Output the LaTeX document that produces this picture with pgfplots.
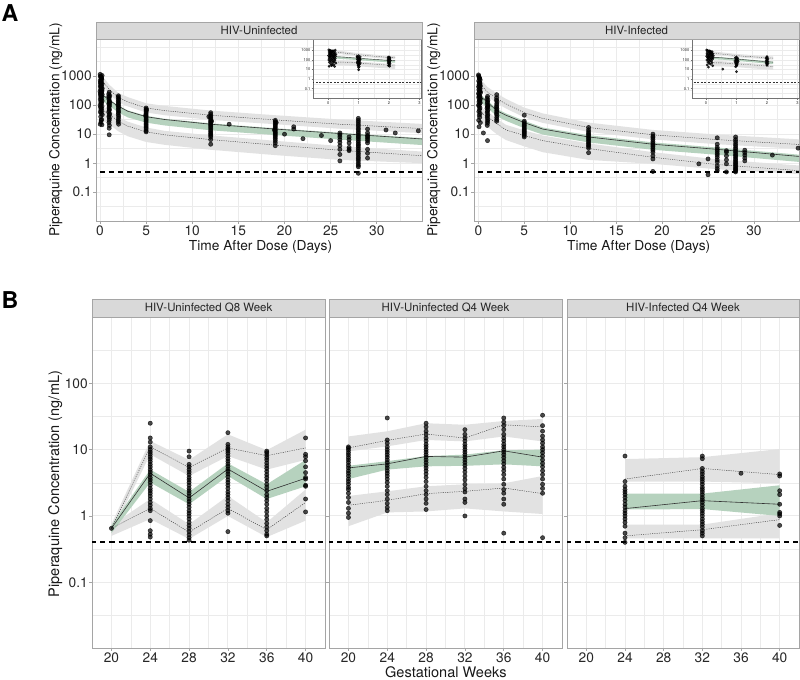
\documentclass[border=0pt]{standalone}
\usepackage{fontspec}
\setmainfont{TeX Gyre Heros}
\usepackage{pgfplots}
\pgfplotsset{compat=1.18}
\usepackage{pgfplotstable}
\definecolor{bandgreen}{RGB}{182,210,190}
\definecolor{bandgray}{RGB}{226,226,226}
\definecolor{gridc}{RGB}{235,235,235}
\definecolor{framec}{RGB}{165,165,165}
\definecolor{stripc}{RGB}{217,217,217}

% ---------------- model lines (median, 95th, 5th percentile) ----------------
\pgfplotstableread{
t med up lo
0.25 220 650 60
0.5 200 550 60
1 150 350 48
2 90 180 28
2.2 85 170 26
3 62 130 19
5 40 80 12
7 32 65 9.5
12 22 45 6.5
19 15 31 4.2
26 10.5 22 2.8
35 6.8 15.5 1.8
}\TLm
\pgfplotstableread{
t med up lo
0.25 180 500 50
0.5 170 420 50
1 125 280 40
2 65 170 23
2.2 60 155 21
3 45 110 14
5 25 55 9
7 15 35 6
12 8 17 3.2
19 4.5 9.5 1.6
26 3 6.5 0.9
35 1.7 4.4 0.55
}\TRm
\pgfplotstableread{
t med up lo
20 0.65 0.65 0.65
24 4.4 11 1.3
28 1.87 5.4 0.57
32 5.1 10.6 1.3
36 2.35 8.1 0.62
40 3.7 10.6 1.6
}\BAm
\pgfplotstableread{
t med up lo
20 5.3 10.6 1.45
24 6.1 13.8 1.72
28 7.9 17.2 2.17
32 7.7 15 2.35
36 9.6 23.7 2.64
40 7.7 22 2.17
}\BBm
\pgfplotstableread{
t med up lo
24 1.29 3.6 0.5
32 1.7 5.2 0.62
40 1.5 4.2 0.88
}\BCm

% ---------------- observed points ----------------
\pgfplotstableread{
x y
0.02 1150
0.05 1000
0.08 950
0.12 880
0.15 820
0.2 760
0.03 700
0.1 650
0.18 600
0.06 560
0.22 520
0.14 480
0.04 450
0.09 420
0.19 400
0.25 370
0.07 350
0.13 330
0.21 310
0.01 290
0.11 270
0.16 250
0.24 235
0.05 220
0.17 205
0.09 190
0.2 175
0.03 160
0.14 150
0.23 140
0.08 130
0.18 120
0.12 110
0.02 100
0.22 92
0.06 85
0.16 78
0.1 70
0.2 64
0.04 58
0.15 52
0.25 47
0.08 40
0.18 32
0.11 26
0.03 22
0.21 21
0.13 30
0.07 600
0.16 900
0.23 1050
0.12 800
0.1 500
0.2 300
0.05 250
1.0 280
0.95 240
1.05 210
1.0 180
0.97 160
1.03 140
1.0 125
0.96 110
1.04 100
1.0 90
0.98 80
1.02 72
1.0 65
0.95 58
1.05 50
1.0 45
0.97 40
1.03 35
1.0 30
0.98 25
1.02 20
1.0 16
1.0 9.5
1.05 120
0.95 200
2.0 210
1.97 190
2.03 170
2.0 150
1.98 135
2.02 120
2.0 108
1.96 98
2.04 88
2.0 80
1.98 70
2.02 62
2.0 55
1.97 48
2.03 42
2.0 36
2.0 30
1.98 26
2.02 22
5 80
5 72
5 65
5 58
5 52
5 46
5 41
5 37
5 33
5 30
5 27
5 24
5 21
5 19
5 17
5 15
5 13
5 12
5.05 68
4.95 44
12 55
12 48
12 42
12 38
12 34
12 30
12 27
12 25
12 22
12 20
12 18
12 16
12 14
12 12.5
12 11
12 10
12 9
12 8
12 6.5
12 4.5
11.8 40
12.1 28
14 22
19 30
19 27
19 24
19 21
19 19
19 17
19 15
19 13.5
19 12
19 11
19 10
19 9
19 8
19 7
19 6
19 5
19 4
19.1 25
18.9 14
20 10
21 15
21 18
22 7
24 9
25 6
26 11
26 9.5
26 8
26 6.5
26 5.2
26 4
26 3
26 2
26 1.2
27 8
27 6.5
27 5
27 3.5
27 3
27 2.7
28 35
28 30
28 26
28 22
28 19
28 16
28 14
28 12
28 10.5
28 9
28 8
28 7
28 6
28 5.2
28 4.5
28 4
28 3.5
28 3
28 2.6
28 2.2
28 1.9
28 1.6
28 1.4
28 1.2
28 1
28 0.85
28 0.75
28 0.45
29 15
29 11
29 9
29 8
29 7
29 6
29 5
29 3
29 2.2
29 1.5
31 14
32 11
34.5 13
}\TLp
\pgfplotstableread{
x y
0.02 1100
0.05 1000
0.1 900
0.15 820
0.2 740
0.04 680
0.12 620
0.18 560
0.08 510
0.22 470
0.03 430
0.14 400
0.2 370
0.06 340
0.1 310
0.16 290
0.24 270
0.02 250
0.09 230
0.13 210
0.19 195
0.05 180
0.23 165
0.11 150
0.17 140
0.07 130
0.21 120
0.14 110
0.03 100
0.09 90
0.18 80
0.12 70
0.06 60
0.2 52
0.1 45
0.15 38
0.04 30
0.22 25
0.08 18
0.16 600
0.11 850
0.2 300
0.07 200
0.13 480
0.55 11
1 200
0.96 170
1.04 150
1 130
0.98 115
1.02 100
1 88
0.95 78
1.05 70
1 62
0.97 55
1.03 48
1 42
0.98 37
1.02 32
1 28
1 24
0.97 20
1 6
1.04 90
2 230
2 180
1.97 150
2.03 130
2 110
2 95
1.98 85
2.02 75
2 66
2 58
1.97 50
2.03 44
2 38
2 32
2 28
5 45
5 28
5 25
5 22
5 20
5 18
5 16
5 14.5
5 13
5 12
5 11
5 10
5 9
5 8
12 17
12 14
12 12
12 10.5
12 9.5
12 8.5
12 7.5
12 6.8
12 6
12 5.3
12 4.7
12 4.2
12 3.8
12 3.3
12 2.3
19 10
19 8.5
19 7.5
19 6.5
19 5.5
19 4.8
19 4.2
19 3.7
19 3.2
19 2.8
19 2.4
19 1.8
19 1.4
19 0.52
24 0.95
25 0.4
25 1.4
26 7.5
26 4.5
26 3.5
26 3
26 2.6
26 2.2
26 1.9
26 1.6
26 1.3
26 1.1
26 0.8
26 0.65
26 0.55
27 2.7
27 2.4
27 1.8
27 1.3
27 0.95
27 0.5
28 8
28 6.5
28 5.5
28 4.6
28 4
28 3.4
28 3
28 2.6
28 2.3
28 2
28 1.8
28 1.6
28 1.4
28 1.25
28 1.1
28 1
28 0.9
28 0.8
28 0.72
28 0.65
28 0.6
28 0.55
28 0.5
29 2.8
29 2.3
29 1.9
29 1.5
29 1.2
32 1.9
34.8 3.3
}\TRp
\pgfplotstableread{
x y
20 0.65
24 25
24 15
24 13
24 11
24 10
24 9.2
24 8.5
24 7.8
24 7.2
24 6.6
24 6
24 5.5
24 5
24 4.6
24 4.2
24 3.8
24 3.5
24 3.2
24 2.9
24 2.6
24 2.4
24 2.2
24 2
24 1.8
24 1.6
24 1.45
24 1.3
24 1.2
24 0.85
24 0.6
24 0.53
24 0.48
28 9.5
28 7.8
28 6
28 5.5
28 5
28 4.6
28 4.2
28 3.8
28 3.5
28 3.2
28 2.9
28 2.6
28 2.4
28 2.2
28 2
28 1.8
28 1.65
28 1.5
28 1.35
28 1.2
28 1.1
28 1
28 0.9
28 0.8
28 0.72
28 0.65
28 0.58
28 0.52
28 0.47
28 0.43
32 18
32 12
32 11
32 10.2
32 9.5
32 8.8
32 8
32 7.3
32 6.7
32 6.1
32 5.6
32 5.1
32 4.7
32 4.3
32 3.9
32 3.5
32 3.2
32 2.9
32 2.6
32 2.3
32 2.1
32 1.9
32 1.7
32 1.5
32 1.35
32 1.2
32 1.1
32 0.58
36 9.5
36 9
36 8.3
36 7.6
36 7
36 6.3
36 5.7
36 5.2
36 4.7
36 4.2
36 3.8
36 3.4
36 3
36 2.7
36 2.4
36 2.1
36 1.9
36 1.7
36 1.5
36 1.3
36 1.15
36 1
36 0.88
36 0.77
36 0.68
36 0.6
36 0.53
36 0.5
40 15
40 8.5
40 7.8
40 6.8
40 5.5
40 4.5
40 3.8
40 3.6
40 2.9
40 2.8
40 1.8
40 1.15
}\BAp
\pgfplotstableread{
x y
20 11
20 10.5
20 9.8
20 9
20 8.3
20 7.6
20 7
20 6.4
20 5.8
20 5.3
20 4.8
20 4.4
20 4
20 3.6
20 3.3
20 3
20 2.7
20 2.5
20 2.2
20 1.9
20 1.6
20 1.3
20 1.1
20 0.95
24 30
24 14
24 12.5
24 11
24 10
24 9.2
24 8.4
24 7.7
24 7
24 6.4
24 5.8
24 5.3
24 4.8
24 4.4
24 4
24 3.6
24 3.2
24 2.8
24 2.4
24 2.1
24 1.8
24 1.55
24 1.35
24 1.2
28 25
28 22
28 19
28 17
28 15
28 13.5
28 12
28 11
28 10
28 9.2
28 8.4
28 7.7
28 7
28 6.4
28 5.8
28 5.3
28 4.8
28 4.3
28 3.8
28 3.3
28 2.8
28 2.4
28 2.1
28 1.8
28 1.55
28 1.25
32 20
32 17
32 15
32 13.5
32 12
32 11
32 10
32 9.2
32 8.4
32 7.7
32 7
32 6.4
32 5.8
32 5.2
32 4.6
32 4
32 3.5
32 3
32 2.6
32 2.3
32 1.8
32 1.6
32 1.0
36 30
36 26
36 23
36 20
36 17
36 15
36 13.5
36 12
36 11
36 10
36 9.2
36 8.4
36 7.6
36 6.8
36 6.1
36 5.4
36 4.8
36 4.2
36 3.6
36 3
36 2.5
36 2.2
36 1.8
36 1.5
36 0.55
40 33
40 23
40 19
40 16
40 14
40 12.5
40 11
40 10
40 9
40 8
40 7
40 6.2
40 5.5
40 4.8
40 4.2
40 3.6
40 3
40 2.6
40 2.2
40 0.47
}\BBp
\pgfplotstableread{
x y
24 8
24 3.3
24 2.8
24 2.5
24 2.3
24 2.1
24 1.9
24 1.7
24 1.5
24 1.35
24 1.2
24 1.1
24 1.0
24 0.9
24 0.8
24 0.7
24 0.55
24 0.47
24 0.4
32 8
32 7.3
32 5.2
32 4.7
32 4.3
32 3.9
32 3.6
32 3.3
32 3
32 2.7
32 2.5
32 2.3
32 2.1
32 1.9
32 1.75
32 1.6
32 1.45
32 1.3
32 1.2
32 1.1
32 1
32 0.9
32 0.82
32 0.75
32 0.68
32 0.6
32 0.55
32 0.5
36 4.4
40 4.3
40 4.0
40 2.4
40 2.1
40 1.5
40 1.13
40 1.07
40 1.0
40 0.72
}\BCp

\pgfplotsset{
  pnlBase/.style={
    scale only axis,
    axis background/.style={fill=white},
    axis line style={framec, line width=0.5pt},
    grid=both,
    major grid style={gridc, line width=0.7pt},
    minor grid style={gridc, line width=0.4pt},
    tick align=outside, major tick length=2pt, minor tick length=0pt,
    major tick style={framec, line width=0.5pt},
    xtick pos=left, ytick pos=left,
    ticklabel style={text=black!85, font=\fontsize{10.3}{12}\selectfont},
    yticklabel style={inner sep=1pt},
    xticklabel style={inner sep=1.5pt},
  },
  pnlTop/.style={pnlBase,
    width=244.5pt, height=136.5pt,
    xmin=-0.43, xmax=34.9, ymin=0.0102, ymax=19000,
    xtick={0,5,10,15,20,25,30}, xticklabels={0,5,10,15,20,25,30},
    minor xtick={2.5,7.5,12.5,17.5,22.5,27.5,32.5},
    ytick={0.1,1,10,100,1000}, yticklabels={0.1,1,10,100,1000},
    minor ytick={0.01,0.0316,0.316,3.16,31.6,316,3162,10000},
  },
  pnlInset/.style={pnlBase,
    width=81pt, height=44.5pt,
    xmin=-0.5, xmax=3.05, ymin=0.01, ymax=15800,
    axis line style={black!55, line width=0.4pt},
    major grid style={gridc, line width=0.4pt},
    minor grid style={gridc, line width=0.25pt},
    major tick length=1pt, major tick style={black!55, line width=0.3pt},
    ticklabel style={text=black!85, font=\fontsize{3}{3.5}\selectfont},
    yticklabel style={inner sep=0.8pt}, xticklabel style={inner sep=1pt},
    xtick={0,1,2,3}, xticklabels={0,1,2,3},
    minor xtick={0.5,1.5,2.5},
    ytick={0.1,1,10,100,1000}, yticklabels={0.1,1,10,100,1000},
    minor ytick={0.0316,0.316,3.16,31.6,316,3162},
  },
  pnlBot/.style={pnlBase,
    height=248.25pt,
    xmin=18, xmax=42, ymin=0.0102, ymax=1000,
    xtick={20,24,28,32,36,40}, xticklabels={20,24,28,32,36,40},
    minor xtick={22,26,30,34,38},
    ytick={0.1,1,10,100}, yticklabels={0.1,1,10,100},
    minor ytick={0.0316,0.316,3.16,31.6,316},
  },
  sDot/.style={black!75, line width=0.35pt, dash pattern=on 0.8pt off 0.9pt},
  sMed/.style={black!80, line width=0.45pt},
  sPts/.style={only marks, mark=*, mark size=1.6pt, mark options={draw=none, fill=black, opacity=0.7}},
  sIpts/.style={only marks, mark=*, mark size=0.85pt, mark options={draw=none, fill=black, opacity=0.75}},
  sLloq/.style={black, line width=1.3pt, dash pattern=on 3.8pt off 3pt},
  sGray/.style={fill=bandgray, draw=none},
  sGreen/.style={fill=bandgreen, draw=none},
}

\begin{document}
\begin{tikzpicture}
\useasboundingbox (0,0) rectangle (600pt,-510pt);

% ================= Top-left =================
\begin{axis}[ymode=log, pnlTop, at={(72pt,-165.75pt)}, anchor=south west]
\addplot[sGray] coordinates {(0.25,940)(0.5,800)(1,510)(2,260)(3,190)(5,116)(7,94)(12,65)(19,45)(26,32)(35,22.5)(35,10.8)(26,15.4)(19,22)(12,31)(7,45)(5,56)(3,91)(2,126)(1,245)(0.5,385)(0.25,450)} -- cycle;
\addplot[sGray] coordinates {(0.25,84)(0.5,84)(1,67)(2,39)(3,27)(5,17)(7,13)(12,9.1)(19,5.9)(26,3.9)(35,2.5)(35,1.0)(26,1.3)(19,1.9)(12,2.9)(7,4.3)(5,5.4)(3,8.5)(2,12.5)(1,22)(0.5,27)(0.25,27)} -- cycle;
\addplot[sGreen] coordinates {(0.25,235)(0.5,215)(1,160)(2,96)(3,66)(5,43)(7,34)(12,23.5)(19,16)(26,11.2)(35,7.3)(35,4.2)(26,6.5)(19,9.3)(12,13.6)(7,20)(5,25)(3,38)(2,56)(1,95)(0.5,125)(0.25,140)} -- cycle;
\addplot[sDot] table[x=t,y=up]{\TLm};
\addplot[sDot] table[x=t,y=lo]{\TLm};
\addplot[sMed] table[x=t,y=med]{\TLm};
\addplot[sPts] table[x=x,y=y]{\TLp};
\addplot[sLloq] coordinates {(-1,0.5) (36,0.5)};
\end{axis}
\begin{axis}[ymode=log, pnlInset, at={(234.75pt,-73.7pt)}, anchor=south west]
\addplot[sGray] coordinates {(0.25,940)(0.5,800)(1,510)(2,260)(2.2,246)(2.2,119)(2,126)(1,245)(0.5,385)(0.25,450)} -- cycle;
\addplot[sGray] coordinates {(0.25,84)(0.5,84)(1,67)(2,39)(2.2,36)(2.2,11.7)(2,12.5)(1,22)(0.5,27)(0.25,27)} -- cycle;
\addplot[sGreen] coordinates {(0.25,235)(0.5,215)(1,160)(2,96)(2.2,91)(2.2,53)(2,56)(1,95)(0.5,125)(0.25,140)} -- cycle;
\addplot[sDot, line width=0.25pt, restrict x to domain=0:2.2] table[x=t,y=up]{\TLm};
\addplot[sDot, line width=0.25pt, restrict x to domain=0:2.2] table[x=t,y=lo]{\TLm};
\addplot[sMed, line width=0.3pt, restrict x to domain=0:2.2] table[x=t,y=med]{\TLm};
\addplot[sIpts, restrict x to domain=-1:3.2] table[x=x,y=y]{\TLp};
\addplot[black!80, line width=0.35pt, dash pattern=on 1.5pt off 1.2pt] coordinates {(-1,0.5) (4,0.5)};
\end{axis}

% ================= Top-right =================
\begin{axis}[ymode=log, pnlTop, xmin=-0.47, width=243.75pt, at={(355.5pt,-165.75pt)}, anchor=south west]
\addplot[sGray] coordinates {(0.25,750)(0.5,630)(1,420)(2,255)(3,165)(5,82)(7,52)(12,25)(19,14)(26,9.7)(35,6.6)(35,3.1)(26,4.5)(19,6.6)(12,12)(7,24.5)(5,38)(3,77)(2,119)(1,196)(0.5,295)(0.25,350)} -- cycle;
\addplot[sGray] coordinates {(0.25,75)(0.5,75)(1,60)(2,34)(3,21)(5,13.5)(7,9)(12,4.8)(19,2.4)(26,1.35)(35,0.83)(35,0.42)(26,0.62)(19,0.95)(12,1.3)(7,2.4)(5,3.8)(3,6.3)(2,10)(1,18)(0.5,22)(0.25,22)} -- cycle;
\addplot[sGreen] coordinates {(0.25,205)(0.5,195)(1,145)(2,75)(3,52)(5,29)(7,17)(12,9.2)(19,5.2)(26,3.45)(35,1.95)(35,1.1)(26,1.95)(19,2.9)(12,5.2)(7,9.7)(5,16)(3,29)(2,42)(1,80)(0.5,110)(0.25,115)} -- cycle;
\addplot[sDot] table[x=t,y=up]{\TRm};
\addplot[sDot] table[x=t,y=lo]{\TRm};
\addplot[sMed] table[x=t,y=med]{\TRm};
\addplot[sPts] table[x=x,y=y]{\TRp};
\addplot[sLloq] coordinates {(-1,0.5) (36,0.5)};
\end{axis}
\begin{axis}[ymode=log, pnlInset, xmin=-0.46, width=80.25pt, at={(519pt,-73.7pt)}, anchor=south west]
\addplot[sGray] coordinates {(0.25,750)(0.5,630)(1,420)(2,255)(2.2,232)(2.2,108)(2,119)(1,196)(0.5,295)(0.25,350)} -- cycle;
\addplot[sGray] coordinates {(0.25,75)(0.5,75)(1,60)(2,34)(2.2,31)(2.2,9.2)(2,10)(1,18)(0.5,22)(0.25,22)} -- cycle;
\addplot[sGreen] coordinates {(0.25,205)(0.5,195)(1,145)(2,75)(2.2,69)(2.2,39)(2,42)(1,80)(0.5,110)(0.25,115)} -- cycle;
\addplot[sDot, line width=0.25pt, restrict x to domain=0:2.2] table[x=t,y=up]{\TRm};
\addplot[sDot, line width=0.25pt, restrict x to domain=0:2.2] table[x=t,y=lo]{\TRm};
\addplot[sMed, line width=0.3pt, restrict x to domain=0:2.2] table[x=t,y=med]{\TRm};
\addplot[sIpts, restrict x to domain=-1:3.2] table[x=x,y=y]{\TRp};
\addplot[black!80, line width=0.35pt, dash pattern=on 1.5pt off 1.2pt] coordinates {(-1,0.5) (4,0.5)};
\end{axis}

% ================= Bottom-left =================
\begin{axis}[ymode=log, pnlBot, width=174.75pt, at={(69pt,-486pt)}, anchor=south west]
\addplot[sGray] coordinates {(20,0.75)(24,13.5)(28,7.0)(32,17)(36,9.8)(40,20)(40,7.0)(36,5.0)(32,8.0)(28,4.0)(24,8.5)(20,0.55)} -- cycle;
\addplot[sGray] coordinates {(20,0.72)(24,1.8)(28,0.75)(32,2.0)(36,0.8)(40,2.5)(40,0.85)(36,0.48)(32,1.0)(28,0.45)(24,0.9)(20,0.5)} -- cycle;
\addplot[sGreen] coordinates {(20,0.72)(24,5.0)(28,2.3)(32,6.2)(36,3.0)(40,7.0)(40,2.8)(36,1.8)(32,4.0)(28,1.5)(24,3.2)(20,0.55)} -- cycle;
\addplot[sDot] table[x=t,y=up]{\BAm};
\addplot[sDot] table[x=t,y=lo]{\BAm};
\addplot[sMed] table[x=t,y=med]{\BAm};
\addplot[sPts] table[x=x,y=y]{\BAp};
\addplot[sLloq] coordinates {(17,0.4) (43,0.4)};
\end{axis}

% ================= Bottom-middle =================
\begin{axis}[ymode=log, pnlBot, width=174.75pt, yticklabels={}, at={(246.75pt,-486pt)}, anchor=south west]
\addplot[sGray] coordinates {(20,15.8)(24,18.9)(28,25)(32,23.7)(36,27)(40,29)(40,13.3)(36,15.8)(32,13.3)(28,14)(24,11.2)(20,9.4)} -- cycle;
\addplot[sGray] coordinates {(20,2.0)(24,2.35)(28,2.8)(32,3.0)(36,3.1)(40,4.0)(40,1.07)(36,1.17)(32,1.3)(28,1.17)(24,1.13)(20,0.7)} -- cycle;
\addplot[sGreen] coordinates {(20,5.7)(24,6.7)(28,8.0)(32,8.4)(36,9.8)(40,10)(40,5.6)(36,6.0)(32,5.7)(28,5.6)(24,5.0)(20,3.6)} -- cycle;
\addplot[sDot] table[x=t,y=up]{\BBm};
\addplot[sDot] table[x=t,y=lo]{\BBm};
\addplot[sMed] table[x=t,y=med]{\BBm};
\addplot[sPts] table[x=x,y=y]{\BBp};
\addplot[sLloq] coordinates {(17,0.4) (43,0.4)};
\end{axis}

% ================= Bottom-right =================
\begin{axis}[ymode=log, pnlBot, width=174pt, yticklabels={}, at={(425.25pt,-486pt)}, anchor=south west]
\addplot[sGray] coordinates {(24,7.2)(32,7.7)(40,10.2)(40,3.1)(32,3.3)(24,3.3)} -- cycle;
\addplot[sGray] coordinates {(24,0.74)(32,0.74)(40,1.1)(40,0.46)(32,0.46)(24,0.46)} -- cycle;
\addplot[sGreen] coordinates {(24,2.17)(32,2.17)(40,2.9)(40,1.0)(32,1.27)(24,1.25)} -- cycle;
\addplot[sDot] table[x=t,y=up]{\BCm};
\addplot[sDot] table[x=t,y=lo]{\BCm};
\addplot[sMed] table[x=t,y=med]{\BCm};
\addplot[sPts] table[x=x,y=y]{\BCp};
\addplot[sLloq] coordinates {(17,0.4) (43,0.4)};
\end{axis}

% ================= strips =================
\tikzset{strip/.style={draw=framec, fill=stripc, line width=0.5pt}}
\tikzset{striptext/.style={font=\fontsize{8.6}{10}\selectfont, text=black!85}}
\draw[strip] (72pt,-16.5pt) rectangle (316.5pt,-29.25pt);
\node[striptext] at (194.25pt,-22.9pt) {HIV-Uninfected};
\draw[strip] (355.5pt,-16.5pt) rectangle (599.25pt,-29.25pt);
\node[striptext] at (477.4pt,-22.9pt) {HIV-Infected};
\draw[strip] (69pt,-224.25pt) rectangle (243.75pt,-237.75pt);
\node[striptext] at (156.4pt,-231pt) {HIV-Uninfected Q8 Week};
\draw[strip] (246.75pt,-224.25pt) rectangle (421.5pt,-237.75pt);
\node[striptext] at (334.1pt,-231pt) {HIV-Uninfected Q4 Week};
\draw[strip] (425.25pt,-224.25pt) rectangle (599.25pt,-237.75pt);
\node[striptext] at (512.25pt,-231pt) {HIV-Infected Q4 Week};

% ================= axis titles =================
\tikzset{ttl/.style={font=\fontsize{10.3}{12}\selectfont, text=black!90, inner sep=0pt}}
\node[ttl, rotate=90, anchor=base] at (44.5pt,-97.5pt) {Piperaquine Concentration (ng/mL)};
\node[ttl, rotate=90, anchor=base] at (328pt,-97.5pt) {Piperaquine Concentration (ng/mL)};
\node[ttl, anchor=base] at (195.4pt,-188pt) {Time After Dose (Days)};
\node[ttl, anchor=base] at (479pt,-188pt) {Time After Dose (Days)};
\node[ttl, font=\fontsize{10.9}{12}\selectfont, rotate=90, anchor=base] at (44.3pt,-363pt) {Piperaquine Concentration (ng/mL)};
\node[ttl, font=\fontsize{10.9}{12}\selectfont, anchor=base] at (334.4pt,-508pt) {Gestational Weeks};

% ================= panel tags =================
\node[font=\fontsize{17.4}{20}\selectfont\bfseries, anchor=base west, inner sep=0pt] at (1pt,-16.3pt) {A};
\node[font=\fontsize{17.4}{20}\selectfont\bfseries, anchor=base west, inner sep=0pt] at (1pt,-231.6pt) {B};
\end{tikzpicture}
\end{document}
